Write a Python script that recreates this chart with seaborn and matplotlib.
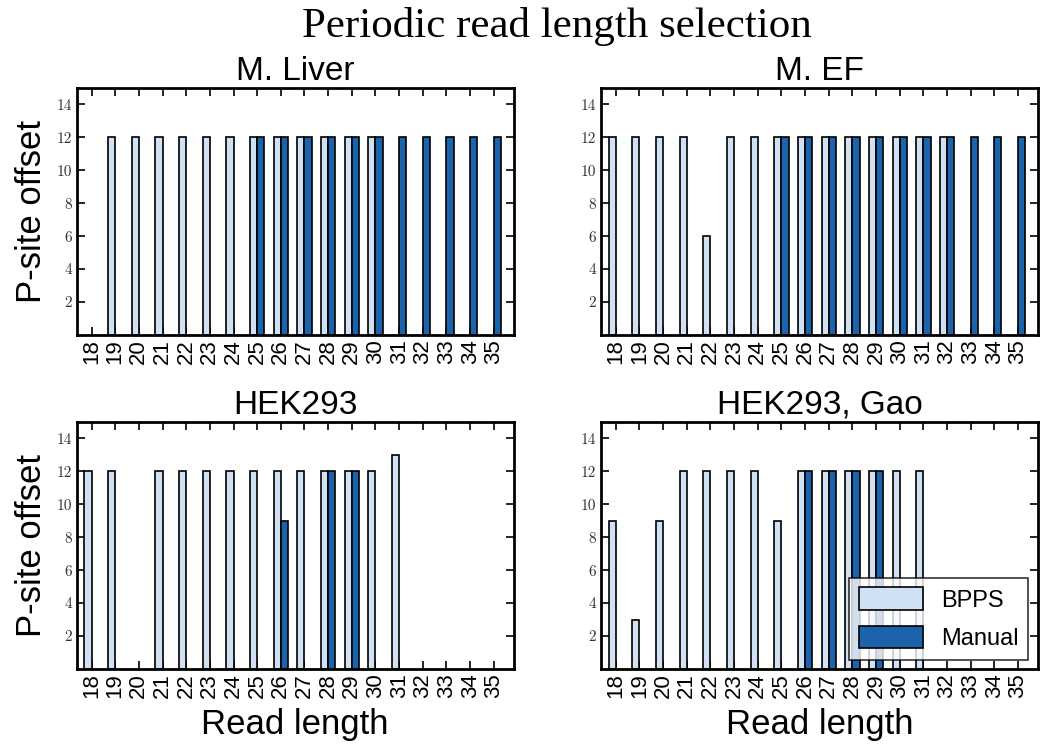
import numpy as np
import pandas as pd
import matplotlib
matplotlib.use("Agg")
import matplotlib.pyplot as plt
import seaborn as sns

# read lengths on the x axis
LENGTHS = [str(l) for l in range(18, 36)]
PANELS = ["M. Liver", "M. EF", "HEK293", "HEK293, Gao"]
METHODS = ["BPPS", "Manual"]
COLORS = ["#cfe1f2", "#1b63aa"]

N = None
# P-site offsets per read length 18..35 (None = not selected)
liver_bpps   = [N, 12, 12, 12, 12, 12, 12, 12, 12, 12, 12, 12, 12, N, N, N, N, N]
liver_manual = [N, N, N, N, N, N, N, 12, 12, 12, 12, 12, 12, 12, 12, 12, 12, 12]
ef_bpps      = [12, 12, 12, 12, 6, 12, 12, 12, 12, 12, 12, 12, 12, 12, 12, N, N, N]
ef_manual    = [N, N, N, N, N, N, N, 12, 12, 12, 12, 12, 12, 12, 12, 12, 12, 12]
hek_bpps     = [12, 12, N, 12, 12, 12, 12, 12, 12, 12, 12, 12, 12, 13, N, N, N, N]
hek_manual   = [N, N, N, N, N, N, N, N, 9, N, 12, 12, N, N, N, N, N, N]
gao_bpps     = [9, 3, 9, 12, 12, 12, 12, 9, 12, 12, 12, 12, 12, 12, N, N, N, N]
gao_manual   = [N, N, N, N, N, N, N, N, 12, 12, 12, 12, N, N, N, N, N, N]

DATA = {
    "M. Liver": (liver_bpps, liver_manual),
    "M. EF": (ef_bpps, ef_manual),
    "HEK293": (hek_bpps, hek_manual),
    "HEK293, Gao": (gao_bpps, gao_manual),
}

sns.set_style("ticks")
plt.rcParams["font.family"] = ["Liberation Sans", "DejaVu Sans"]
plt.rcParams.update({
    "xtick.direction": "in", "ytick.direction": "in",
    "xtick.top": True, "ytick.right": True,
    "xtick.major.size": 6, "ytick.major.size": 6,
    "xtick.major.width": 1.2, "ytick.major.width": 1.2,
    "axes.linewidth": 2.0,
    "axes.edgecolor": "black",
    "text.color": "black", "axes.labelcolor": "black",
    "xtick.color": "black", "ytick.color": "black",
})

fig, axes = plt.subplots(2, 2, figsize=(10.4, 7.45), dpi=100)
fig.subplots_adjust(left=0.0738, right=0.998, bottom=0.102, top=0.882,
                    wspace=0.2, hspace=0.352)

for i, (name, ax) in enumerate(zip(PANELS, axes.flat)):
    bpps, manual = DATA[name]
    rows = {"length": [], "method": [], "offset": []}
    for m, vals in zip(METHODS, (bpps, manual)):
        for l, v in zip(LENGTHS, vals):
            rows["length"].append(l)
            rows["method"].append(m)
            rows["offset"].append(v)
    df = pd.DataFrame(rows).dropna()
    df["offset"] = df["offset"].astype(float)

    sns.barplot(data=df, x="length", y="offset", hue="method",
                order=LENGTHS, hue_order=METHODS, palette=COLORS,
                saturation=1, width=0.6, edgecolor="black", linewidth=1.2,
                errorbar=None, legend=(i == 3), ax=ax)

    ax.set_xlim(-0.625, 17.84)
    ax.set_ylim(0, 15)
    ax.set_yticks(range(2, 15, 2))
    ax.set_yticklabels([str(t) for t in range(2, 15, 2)],
                       family="cmr10", fontsize=11, color="#333333")
    ax.set_xticks(range(len(LENGTHS)))
    ax.set_xticklabels(LENGTHS, rotation=90, fontsize=16)
    ax.tick_params(axis="x", pad=3)
    ax.set_title(name, fontsize=24, pad=6)
    ax.set_xlabel("Read length" if i >= 2 else "", fontsize=25, labelpad=7)
    ax.set_ylabel("P-site offset" if i % 2 == 0 else "", fontsize=25,
                  labelpad=6)
    for s in ax.spines.values():
        s.set_visible(True)

leg = axes[1, 1].legend(loc="lower right", fontsize=17, frameon=True,
                        fancybox=False, edgecolor="black",
                        handlelength=2.7, handleheight=1.1,
                        borderaxespad=0.4, labelspacing=0.6)
leg.get_frame().set_linewidth(1.2)

fig.text(0.535, 0.965, "Periodic read length selection", ha="center",
         va="center", family="Liberation Serif", fontsize=31)

fig.savefig("out.png", dpi=100)
